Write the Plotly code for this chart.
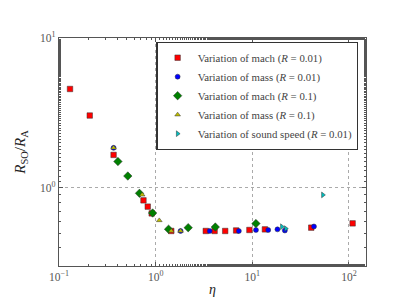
import plotly.graph_objects as go

# Data (eta, R_SO/R_A)
mach_r001_eta = [0.13, 0.208, 0.367, 0.748, 0.828, 0.91, 1.45, 3.3, 4.07, 5.24, 6.8, 9.33, 13.5, 40.7, 109]
mach_r001_r = [4.57, 3.04, 1.66, 0.826, 0.75, 0.676, 0.516, 0.516, 0.516, 0.516, 0.52, 0.524, 0.529, 0.543, 0.58]

mass_r001_eta = [0.367, 1.81, 3.62, 7.25, 10.9, 14.6, 18.2, 21.7, 43.4]
mass_r001_r = [1.85, 0.516, 0.516, 0.516, 0.524, 0.524, 0.529, 0.52, 0.553]

mach_r01_eta = [0.407, 0.515, 0.68, 0.93, 1.36, 2.17, 4.14, 10.9]
mach_r01_r = [1.5, 1.2, 0.92, 0.68, 0.53, 0.543, 0.548, 0.578]

mass_r01_eta = [0.367, 0.725, 1.09, 1.45, 1.81]
mass_r01_r = [1.85, 0.90, 0.607, 0.516, 0.516]

sound_r001_eta = [20.2, 22.2, 53.7]
sound_r001_r = [0.551, 0.535, 0.898]

x_tickvals = [0.1, 1, 10, 100]
x_ticktext = ["10<sup>−1</sup>", "10<sup>0</sup>", "10<sup>1</sup>", "10<sup>2</sup>"]
y_tickvals = [1, 10]
y_ticktext = ["10<sup>0</sup>", "10<sup>1</sup>"]

series = [
    ("Variation of mach (<i>R</i> = 0.01)", mach_r001_eta, mach_r001_r, "square", "#ff0000", 5.5),
    ("Variation of mass (<i>R</i> = 0.01)", mass_r001_eta, mass_r001_r, "circle", "#0000ff", 5),
    ("Variation of mach (<i>R</i> = 0.1)", mach_r01_eta, mach_r01_r, "diamond", "#008000", 6.5),
    ("Variation of mass (<i>R</i> = 0.1)", mass_r01_eta, mass_r01_r, "triangle-up", "#bfbf00", 5),
    ("Variation of sound speed (<i>R</i> = 0.01)", sound_r001_eta, sound_r001_r, "triangle-right", "#00bfbf", 5),
]

fig = go.Figure()
for name, xs, ys, sym, col, sz in series:
    fig.add_trace(go.Scatter(
        x=xs, y=ys, mode="markers", name=name,
        marker=dict(symbol=sym, color=col, size=sz, line=dict(color="#333333", width=0.5)),
    ))

font_family = "Liberation Serif"
axis_common = dict(
    type="log", showline=True, linecolor="#555555", linewidth=1.2, mirror="allticks",
    ticks="inside", ticklen=4, tickcolor="#555555", tickwidth=0.8,
    showgrid=True, gridcolor="#aaaaaa", griddash="dot", gridwidth=0.8,
    zeroline=False,
    minor=dict(ticks="inside", ticklen=2, tickcolor="#555555", showgrid=False),
    tickfont=dict(family=font_family, size=11.5, color="#555555"),
)

fig.update_xaxes(**axis_common, range=[-1, 2.176], tickvals=x_tickvals, ticktext=x_ticktext,
                 title=dict(text="<i>η</i>", font=dict(family=font_family, size=14, color="#222222"), standoff=2))
fig.update_yaxes(**axis_common, range=[-0.521, 1], tickvals=y_tickvals, ticktext=y_ticktext,
                 title=dict(text="<i>R</i><sub>SO</sub>/<i>R</i><sub>A</sub>", font=dict(family=font_family, size=15, color="#222222"), standoff=10))

fig.update_layout(
    width=399, height=299,
    margin=dict(l=50, r=41, t=30, b=31),
    paper_bgcolor="white", plot_bgcolor="white",
    showlegend=True,
    legend=dict(x=0.975, y=0.983, xanchor="right", yanchor="top",
                bgcolor="white", bordercolor="#333333", borderwidth=1.3,
                font=dict(family=font_family, size=10.8, color="#444444"),
                itemwidth=30, tracegroupgap=0),
)

fig.write_html("out.html")
